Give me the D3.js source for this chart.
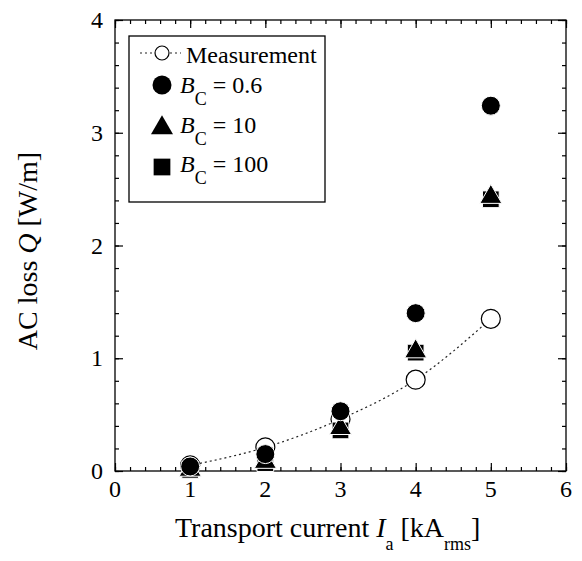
<!DOCTYPE html>
<html><head><meta charset="utf-8">
<script src="https://cdn.jsdelivr.net/npm/d3@7"></script>
<style>body{margin:0;background:#fff}svg{display:block}text{font-family:"Times New Roman","Liberation Serif",serif;fill:#000}</style>
</head><body><svg id="c" width="582" height="561" font-family="Liberation Serif"></svg>
<script>
const currents = [1, 2, 3, 4, 5];
const measurement = [0.05, 0.21, 0.46, 0.81, 1.35];
const bc06 = [0.04, 0.15, 0.53, 1.40, 3.24];
const bc10 = [0.01, 0.08, 0.38, 1.06, 2.43];
const bc100 = [0.01, 0.07, 0.36, 1.05, 2.41];
const xTicks = [0, 1, 2, 3, 4, 5, 6];
const yTicks = [0, 1, 2, 3, 4];

const svg = d3.select("#c");
const L = 115, R = 566, T = 20, B = 471;
const x = d3.scaleLinear().domain([0, 6]).range([L, R]);
const y = d3.scaleLinear().domain([0, 4]).range([B, T]);
const minorX = d3.range(0, 6.001, 0.2);
const minorY = d3.range(0, 4.001, 0.2);

const g = svg.append("g");
function ticks(axisGen, tr, vals, size) {
  g.append("g").attr("transform", tr)
    .call(axisGen.tickValues(vals).tickSize(size).tickFormat(""))
    .call(s => { s.select(".domain").remove(); s.selectAll("line").attr("stroke", "#000").attr("stroke-width", 1.2); });
}
ticks(d3.axisTop(x), `translate(0,${B})`, minorX, 4);
ticks(d3.axisTop(x), `translate(0,${B})`, xTicks, 8);
ticks(d3.axisBottom(x), `translate(0,${T})`, minorX, 4);
ticks(d3.axisBottom(x), `translate(0,${T})`, xTicks, 8);
ticks(d3.axisRight(y), `translate(${L},0)`, minorY, 4);
ticks(d3.axisRight(y), `translate(${L},0)`, yTicks, 8);
ticks(d3.axisLeft(y), `translate(${R},0)`, minorY, 4);
ticks(d3.axisLeft(y), `translate(${R},0)`, yTicks, 8);

g.append("rect").attr("x", L).attr("y", T).attr("width", R - L).attr("height", B - T)
  .attr("fill", "none").attr("stroke", "#000").attr("stroke-width", 1.3);

g.selectAll(".xl").data(xTicks).join("text").attr("x", d => x(d)).attr("y", 497)
  .attr("text-anchor", "middle").attr("font-size", 24).text(d => d);
g.selectAll(".yl").data(yTicks).join("text").attr("x", 103).attr("y", d => y(d) + 8)
  .attr("text-anchor", "end").attr("font-size", 24).text(d => d);

const xt = g.append("text").attr("x", 175).attr("y", 537).attr("font-size", 28);
xt.append("tspan").text("Transport current ");
xt.append("tspan").attr("font-style", "italic").text("I");
xt.append("tspan").attr("font-size", 18).attr("dy", 13).text("a");
xt.append("tspan").attr("dy", -13).text(" [kA");
xt.append("tspan").attr("font-size", 18).attr("dy", 13).text("rms");
xt.append("tspan").attr("dy", -13).text("]");

const yt = g.append("text").attr("transform", "translate(37,251) rotate(-90)")
  .attr("text-anchor", "middle").attr("font-size", 28);
yt.append("tspan").text("AC loss ");
yt.append("tspan").attr("font-style", "italic").text("Q");
yt.append("tspan").text(" [W/m]");

const pts = currents.map((c, i) => [c, measurement[i]]);
g.append("path").datum(pts)
  .attr("d", d3.line().x(d => x(d[0])).y(d => y(d[1])).curve(d3.curveMonotoneX))
  .attr("fill", "none").attr("stroke", "#222").attr("stroke-width", 1.2).attr("stroke-dasharray", "2,3");
g.selectAll(".mo").data(pts).join("circle").attr("cx", d => x(d[0])).attr("cy", d => y(d[1]))
  .attr("r", 9.5).attr("fill", "#fff").attr("stroke", "#000").attr("stroke-width", 1.2);

const sq = d3.symbol().type(d3.symbolSquare).size(280);
const tri = d3.symbol().type(d3.symbolTriangle).size(210);
g.selectAll(".s100").data(currents.map((c, i) => [c, bc100[i]])).join("path")
  .attr("transform", d => `translate(${x(d[0])},${y(d[1])})`).attr("d", sq)
  .attr("fill", "#000").attr("stroke", "#fff").attr("stroke-width", 1);
g.selectAll(".s10").data(currents.map((c, i) => [c, bc10[i]])).join("path")
  .attr("transform", d => `translate(${x(d[0])},${y(d[1])})`).attr("d", tri)
  .attr("fill", "#000").attr("stroke", "#fff").attr("stroke-width", 1);
g.selectAll(".s06").data(currents.map((c, i) => [c, bc06[i]])).join("circle")
  .attr("cx", d => x(d[0])).attr("cy", d => y(d[1])).attr("r", 9.5)
  .attr("fill", "#000").attr("stroke", "#fff").attr("stroke-width", 1);

const lg = g.append("g");
lg.append("rect").attr("x", 129).attr("y", 36).attr("width", 196).attr("height", 166)
  .attr("fill", "#fff").attr("stroke", "#000").attr("stroke-width", 1.3);
lg.append("line").attr("x1", 140).attr("x2", 181).attr("y1", 53).attr("y2", 53)
  .attr("stroke", "#222").attr("stroke-width", 1.2).attr("stroke-dasharray", "2,3");
lg.append("circle").attr("cx", 162).attr("cy", 53).attr("r", 7)
  .attr("fill", "#fff").attr("stroke", "#000").attr("stroke-width", 1.2);
lg.append("text").attr("x", 186).attr("y", 63).attr("font-size", 24).text("Measurement");
lg.append("circle").attr("cx", 162).attr("cy", 85).attr("r", 9.5).attr("fill", "#000");
lg.append("path").attr("transform", "translate(162,128)").attr("d", tri).attr("fill", "#000");
lg.append("path").attr("transform", "translate(162,167)").attr("d", d3.symbol().type(d3.symbolSquare).size(280)).attr("fill", "#000");
const labels = [["0.6", 93], ["10", 133], ["100", 172]];
labels.forEach(([v, yy]) => {
  const t = lg.append("text").attr("x", 180).attr("y", yy).attr("font-size", 24);
  t.append("tspan").attr("font-style", "italic").text("B");
  t.append("tspan").attr("font-size", 18).attr("dy", 12).text("C");
  t.append("tspan").attr("dy", -12).text(" = " + v);
});
</script></body></html>
